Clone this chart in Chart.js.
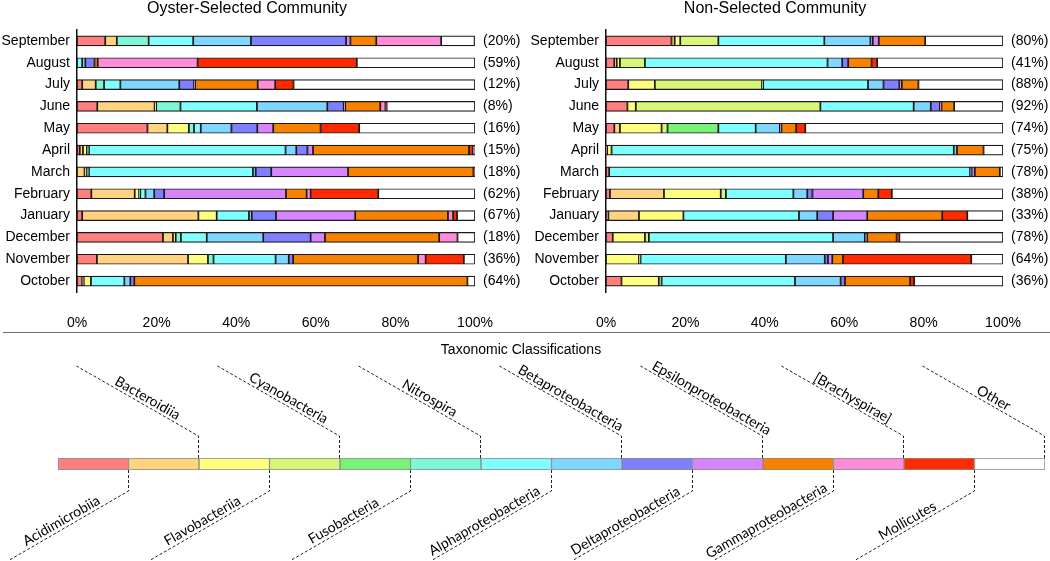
<!DOCTYPE html>
<html>
<head>
<meta charset="utf-8">
<script src="https://cdn.jsdelivr.net/npm/chart.js@4.4.1/dist/chart.umd.min.js"></script>
<style>
  html, body { margin: 0; padding: 0; background: #fff; }
  #page { position: relative; width: 1050px; height: 561px; overflow: hidden; }
  .box { position: absolute; }
  #sep { position: absolute; left: 3px; right: 0; top: 332px; height: 0; border-top: 1.5px solid #6e6e6e; }
</style>
</head>
<body>
<div id="page">
  <div class="box" style="left:0;top:0;width:525px;height:332px"><canvas id="leftChart"></canvas></div>
  <div class="box" style="left:525px;top:0;width:525px;height:332px"><canvas id="rightChart"></canvas></div>
  <div id="sep"></div>
  <div class="box" style="left:0;top:333px;width:1050px;height:228px"><canvas id="legendChart"></canvas></div>
</div>
<script>
const months = ["September", "August", "July", "June", "May", "April",
                "March", "February", "January", "December", "November", "October"];

const taxa = ["Acidimicrobiia", "Bacteroidiia", "Flavobacteriia", "Cyanobacteria",
              "Fusobacteria", "Nitrospira", "Alphaproteobacteria", "Betaproteobacteria",
              "Deltaproteobacteria", "Epsilonproteobacteria", "Gammaproteobacteria",
              "[Brachyspirae]", "Mollicutes", "Other"];

const taxaColors = ["#ff7f7f", "#ffd37f", "#ffff7f", "#d8f77a", "#78f378", "#7ff7d7",
                    "#7fffff", "#7fd6ff", "#7f7fff", "#d685ff", "#f78200", "#ff8cd9",
                    "#ff2a00", "#ffffff"];

// percent next to each bar
const oysterPct = [20, 59, 12, 8, 16, 15, 18, 62, 67, 18, 36, 64];
const nonSelPct = [80, 41, 88, 92, 74, 75, 78, 38, 33, 78, 64, 36];

// one row per month, one value per taxon (same order as taxa)
const oysterData = [
  [7.1, 2.9, 0, 0, 0, 8.0, 11.2, 14.5, 23.9, 1.1, 6.5, 16.3, 0, 8.4],
  [0, 0, 0, 0, 0, 0, 1.3, 0.8, 2.3, 0, 0.8, 25.1, 40.0, 29.7],
  [1.3, 3.4, 0, 0, 0, 2.1, 4.1, 14.8, 3.7, 0.3, 15.7, 4.4, 4.6, 45.6],
  [5.1, 14.4, 0.4, 0, 0, 6.1, 19.2, 17.7, 4.1, 0.4, 8.8, 1.3, 0.3, 22.2],
  [17.7, 5.0, 5.4, 0, 0, 1.3, 1.7, 7.7, 6.5, 4.0, 11.9, 0, 9.7, 29.1],
  [0.7, 0.8, 1.0, 0, 0, 0.5, 49.4, 2.7, 2.8, 1.4, 39.2, 0, 1.0, 0.5],
  [0, 1.9, 0.6, 0, 0, 0.5, 41.2, 0.7, 3.9, 19.3, 31.5, 0, 0.4, 0],
  [3.6, 10.9, 1.1, 0, 0, 0.3, 1.3, 2.2, 2.5, 30.6, 5.2, 1.0, 17.0, 24.3],
  [1.3, 29.2, 4.6, 0, 0, 0, 8.1, 0.7, 6.1, 19.9, 23.3, 1.3, 1.0, 4.5],
  [21.6, 2.5, 0.7, 0, 0, 1.3, 6.5, 14.2, 11.9, 3.6, 28.7, 4.6, 0, 4.4],
  [5.0, 22.9, 5.0, 0, 0, 1.4, 15.6, 3.3, 1.1, 0, 31.4, 1.9, 9.6, 2.8],
  [1.3, 0.4, 1.8, 0, 0, 0, 8.4, 1.5, 1.0, 0, 83.7, 0, 0, 1.9]
];

const nonSelData = [
  [16.5, 0.8, 1.4, 9.6, 0, 0, 26.7, 11.6, 0.6, 1.5, 11.7, 0, 0, 19.6],
  [2.1, 0.6, 0.8, 6.3, 0, 0, 46.0, 3.7, 1.5, 0, 5.9, 0, 1.4, 31.7],
  [5.6, 0, 6.7, 27.0, 0, 0.3, 26.4, 3.9, 4.0, 0.6, 4.2, 0, 0, 21.3],
  [5.4, 0, 2.1, 46.5, 0, 0, 23.5, 4.3, 2.3, 0.4, 3.2, 0, 0, 12.3],
  [2.1, 1.4, 10.5, 1.5, 12.8, 0, 9.4, 6.1, 0.4, 0, 3.7, 0, 2.3, 49.8],
  [0.3, 0, 1.1, 0, 0, 0, 86.2, 0.8, 0, 0, 6.7, 0, 0, 4.9],
  [0.8, 0, 0, 0, 0, 0, 90.9, 0, 0.4, 0.8, 6.3, 0, 0, 0.8],
  [1.0, 13.6, 14.3, 1.3, 0, 0, 17.0, 3.5, 1.3, 12.8, 3.8, 0, 3.4, 28.0],
  [0.6, 7.7, 11.2, 0, 0, 0, 29.1, 4.6, 4.0, 8.6, 18.9, 0, 6.3, 9.0],
  [1.7, 0, 8.1, 1.0, 0, 0, 46.4, 8.0, 0.6, 0, 7.4, 0, 0.7, 26.1],
  [0, 0, 8.3, 0.4, 0, 0, 36.6, 9.8, 0.8, 1.1, 2.7, 0, 32.3, 8.0],
  [3.9, 0, 9.4, 0.7, 0, 0, 33.6, 11.5, 1.1, 0, 16.4, 0, 1.0, 22.4]
];

const arial = '"Liberation Sans", Arial, sans-serif';
Chart.defaults.color = '#000';
Chart.defaults.font.family = arial;

// title above each panel + the (xx%) text right of every bar
const sideLabels = {
  id: 'sideLabels',
  afterDraw(chart, args, opts) {
    const ctx = chart.ctx;
    const area = chart.chartArea;
    const y = chart.scales.y;
    ctx.save();
    ctx.fillStyle = '#000';
    ctx.font = '16px ' + arial;
    ctx.textAlign = 'center';
    ctx.textBaseline = 'middle';
    ctx.fillText(opts.title, opts.titleX, 9);
    ctx.font = '14px ' + arial;
    ctx.textAlign = 'left';
    opts.pct.forEach((p, i) => {
      ctx.fillText('(' + p + '%)', area.right + 8, y.getPixelForValue(i));
    });
    ctx.restore();
  }
};

function makeBarChart(id, rows, pct, title, titleX, yWidth, padRight) {
  const datasets = taxa.map((name, j) => ({
    label: name,
    data: rows.map(r => r[j]),
    backgroundColor: taxaColors[j],
    borderColor: '#1a1a1a',
    borderWidth: 1.2,
    borderSkipped: false,
    barThickness: 10
  }));
  return new Chart(document.getElementById(id), {
    type: 'bar',
    data: { labels: months, datasets: datasets },
    options: {
      indexAxis: 'y',
      responsive: true,
      maintainAspectRatio: false,
      animation: false,
      layout: { padding: { top: 30, right: padRight, left: 0, bottom: 0 } },
      plugins: {
        legend: { display: false },
        tooltip: { enabled: false },
        sideLabels: { title: title, titleX: titleX, pct: pct }
      },
      scales: {
        x: {
          stacked: true, min: 0, max: 100,
          grid: { display: false, drawTicks: false },
          border: { display: false },
          ticks: { stepSize: 20, padding: 23, font: { size: 14 }, callback: v => v + '%' },
          afterFit: s => { s.height = 40; }
        },
        y: {
          stacked: true,
          grid: { display: false, drawTicks: false },
          border: { display: true, color: '#111', width: 1.5 },
          ticks: { padding: 7, font: { size: 14 } },
          afterFit: s => { s.width = yWidth; }
        }
      }
    },
    plugins: [sideLabels]
  });
}

makeBarChart('leftChart', oysterData, oysterPct, 'Oyster-Selected Community', 247, 77, 50);
makeBarChart('rightChart', nonSelData, nonSelPct, 'Non-Selected Community', 250, 81, 47);

// legend: one stacked bar with dashed leaders and rotated names
const legendLeaders = {
  id: 'legendLeaders',
  afterDatasetsDraw(chart) {
    const ctx = chart.ctx;
    const xs = chart.scales.x;
    const bar = chart.getDatasetMeta(0).data[0];
    const top = bar.y - bar.height / 2;
    const bottom = bar.y + bar.height / 2;
    const a = Math.atan2(70, 122);
    ctx.save();
    ctx.fillStyle = '#000';
    ctx.font = '14px ' + arial;
    ctx.textAlign = 'center';
    ctx.textBaseline = 'middle';
    ctx.fillText('Taxonomic Classifications', 521, 17);

    ctx.strokeStyle = '#222';
    ctx.lineWidth = 1;
    ctx.setLineDash([3, 2]);
    ctx.font = '14px Lato, "Open Sans", sans-serif';
    ctx.textBaseline = 'alphabetic';
    taxa.forEach((name, i) => {
      const ex = Math.round(xs.getPixelForValue(i + 1)) - 0.5;
      const above = i % 2 === 1;
      const by = above ? top - 22 : bottom + 21;
      const dx = above ? 122 : 119;
      const dy = above ? -70 : 69;
      ctx.beginPath();
      ctx.moveTo(ex, above ? top : bottom);
      ctx.lineTo(ex, by);
      ctx.lineTo(ex - dx, by + dy);
      ctx.stroke();
      const d = above ? 63 : 73;
      const px = ex - d * Math.cos(a);
      const py = above ? by - d * Math.sin(a) : by + d * Math.sin(a);
      ctx.save();
      ctx.translate(px, py);
      ctx.rotate(above ? a : -a);
      ctx.fillText(name, 0, -3);
      ctx.restore();
    });
    ctx.restore();
  }
};

new Chart(document.getElementById('legendChart'), {
  type: 'bar',
  data: {
    labels: [''],
    datasets: taxa.map((name, j) => ({
      label: name,
      data: [1],
      backgroundColor: taxaColors[j],
      borderColor: '#8a8a8a',
      borderWidth: 1,
      borderSkipped: false,
      barThickness: 12
    }))
  },
  options: {
    indexAxis: 'y',
    responsive: true,
    maintainAspectRatio: false,
    animation: false,
    layout: { padding: { top: 125, bottom: 91, left: 58, right: 5 } },
    plugins: { legend: { display: false }, tooltip: { enabled: false } },
    scales: {
      x: { stacked: true, min: 0, max: taxa.length, display: false },
      y: { stacked: true, display: false }
    }
  },
  plugins: [legendLeaders]
});
</script>
</body>
</html>
